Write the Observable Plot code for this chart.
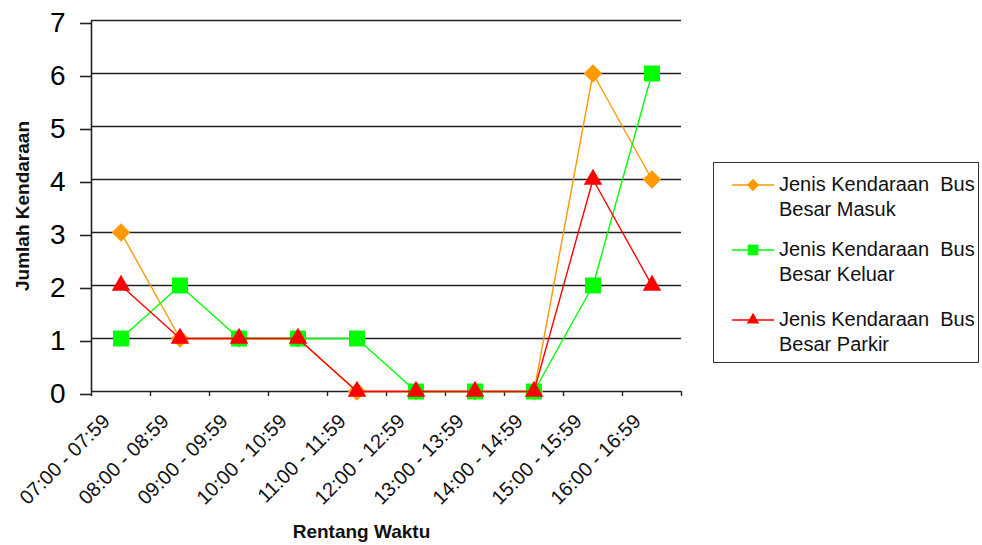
<!DOCTYPE html>
<html>
<head>
<meta charset="utf-8">
<script src="https://cdn.jsdelivr.net/npm/d3@7"></script>
<script src="https://cdn.jsdelivr.net/npm/@observablehq/plot@0.6"></script>
<style>
  body { margin: 0; background: #fff; }
  #chart { position: relative; width: 982px; height: 545px; font-family: "Liberation Sans", Arial, sans-serif; }
  #chart svg { display: block; }
  .legend { position: absolute; left: 713px; top: 162px; width: 266px; height: 201px;
            border: 1.5px solid #333; box-sizing: border-box; }
  .entry { position: absolute; left: 0; }
  .entry svg { position: absolute; left: 18px; top: 2px; }
  .entry .txt { position: absolute; left: 65px; top: 0; white-space: pre; font-size: 20px;
                line-height: 25px; color: #111; }
</style>
</head>
<body>
<div id="chart"></div>
<script>
// Time slots on the horizontal axis
const timeRanges = [
  "07:00 - 07:59", "08:00 - 08:59", "09:00 - 09:59", "10:00 - 10:59", "11:00 - 11:59",
  "12:00 - 12:59", "13:00 - 13:59", "14:00 - 14:59", "15:00 - 15:59", "16:00 - 16:59"
];

// Vehicle counts per time slot
const busMasuk  = [3, 1, 1, 1, 0, 0, 0, 0, 6, 4];
const busKeluar = [1, 2, 1, 1, 1, 0, 0, 0, 2, 6];
const busParkir = [2, 1, 1, 1, 0, 0, 0, 0, 4, 2];

const seriesNames = [
  "Jenis Kendaraan  Bus\nBesar Masuk",
  "Jenis Kendaraan  Bus\nBesar Keluar",
  "Jenis Kendaraan  Bus\nBesar Parkir"
];
const seriesColors = ["#FF9900", "#00FF00", "#FF0000"];
const seriesSymbols = ["diamond2", "square", "triangle"];
const seriesRadius = [8.3, 9, 6.9];

const yTicks = [0, 1, 2, 3, 4, 5, 6, 7];
const slotEdges = d3.range(0, timeRanges.length + 1);

const series = [busMasuk, busKeluar, busParkir].map((values, s) =>
  values.map((value, i) => ({slot: i, label: timeRanges[i], value, s}))
);

const seriesMarks = series.flatMap((rows, s) => [
  Plot.line(rows, {x: d => d.slot + 0.5, y: "value", stroke: seriesColors[s], strokeWidth: 1.4}),
  Plot.dot(rows, {x: d => d.slot + 0.5, y: "value", symbol: () => seriesSymbols[s],
                  r: seriesRadius[s], fill: seriesColors[s], stroke: "none"})
]);

const chart = Plot.plot({
  width: 982,
  height: 545,
  marginLeft: 91,
  marginRight: 301,
  marginTop: 20,
  marginBottom: 154,
  style: {fontFamily: "Liberation Sans, Arial, sans-serif", color: "#000", background: "#fff"},
  x: {type: "linear", domain: [0, timeRanges.length]},
  y: {domain: [0, 7]},
  marks: [
    // horizontal grid
    Plot.ruleY(yTicks, {stroke: "#222", strokeWidth: 1.6}),
    // vertical axis line
    Plot.ruleX([0], {y1: 0, y2: 7, stroke: "#222", strokeWidth: 1.6}),
    Plot.axisY({ticks: yTicks, tickFormat: d3.format("d"), tickSize: 11, tickPadding: 15,
                fontSize: 28, dy: 3, stroke: "#222", strokeWidth: 1.6, label: null}),
    Plot.axisX({ticks: slotEdges, tickSize: 5, tickFormat: () => "", stroke: "#222",
                strokeWidth: 1.4, label: null}),
    // rotated time-slot labels
    Plot.text(timeRanges, {x: (d, i) => i + 0.5, text: d => d, frameAnchor: "bottom",
      rotate: -45, textAnchor: "end", lineAnchor: "bottom", dx: -10, dy: 31,
      fontSize: 20, fill: "#111"}),
    // axis titles
    Plot.text(["Jumlah Kendaraan"], {text: d => d, frameAnchor: "left", textAnchor: "middle",
      rotate: -90, dx: -69, fontWeight: "bold", fontSize: 19, fill: "#111"}),
    Plot.text(["Rentang Waktu"], {text: d => d, frameAnchor: "bottom", dx: -25, dy: 146,
      fontWeight: "bold", fontSize: 19, fill: "#111"}),
    ...seriesMarks
  ]
});

const root = document.getElementById("chart");
root.appendChild(chart);

// Legend box
const legend = d3.select(root).append("div").attr("class", "legend");
const entryTops = [8.5, 73.5, 143.5];
seriesNames.forEach((name, s) => {
  const entry = legend.append("div").attr("class", "entry").style("top", entryTops[s] + "px");
  const svg = entry.append("svg").attr("width", 44).attr("height", 22);
  svg.append("line").attr("x1", 0).attr("x2", 42).attr("y1", 11).attr("y2", 11)
    .attr("stroke", seriesColors[s]).attr("stroke-width", 1.5);
  const sym = {diamond2: d3.symbolDiamond2, square: d3.symbolSquare, triangle: d3.symbolTriangle}[seriesSymbols[s]];
  const area = Math.PI * seriesRadius[s] * seriesRadius[s] * (s === 0 ? 0.45 : 0.45);
  svg.append("path").attr("d", d3.symbol(sym, area)()).attr("transform", "translate(21,11)")
    .attr("fill", seriesColors[s]);
  entry.append("div").attr("class", "txt").text(name);
});
</script>
</body>
</html>
